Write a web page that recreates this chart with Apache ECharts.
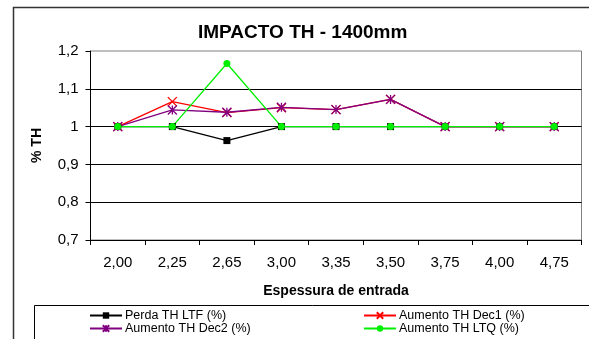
<!DOCTYPE html>
<html>
<head>
<meta charset="utf-8">
<script src="https://cdn.jsdelivr.net/npm/echarts@6/dist/echarts.min.js"></script>
<style>html,body{margin:0;padding:0;background:#fff;}#c{width:589px;height:339px;}</style>
</head>
<body>
<div id="c"></div>
<script>
var categories = ['2,00','2,25','2,65','3,00','3,35','3,50','3,75','4,00','4,75'];
var perdaLTF = [1, 1, 0.963, 1, 1, 1, 1, 1, 1];
var aumentoDec1 = [1, 1.066, 1.037, 1.05, 1.045, 1.072, 1, 1, 1];
var aumentoDec2 = [1, 1.044, 1.038, 1.051, 1.045, 1.072, 1, 1, 1];
var aumentoLTQ = [1, 1, 1.167, 1, 1, 1, 1, 1, 1];
var yTicks = {min: 0.7, max: 1.2, interval: 0.1};

var FONT = 'Liberation Sans, Arial, sans-serif';
var chart = echarts.init(document.getElementById('c'), null, {renderer: 'canvas'});

var xPath = 'path://M0,0L10,10M10,0L0,10';
var starPath = 'path://M0,0L10,10M10,0L0,10M5,0L5,10';

chart.setOption({
  animation: false,
  backgroundColor: '#fff',
  title: {
    text: 'IMPACTO TH - 1400mm',
    left: 198, top: 23, padding: 0,
    textStyle: {fontFamily: FONT, fontSize: 19, fontWeight: 'bold', color: '#000'}
  },
  graphic: [
    {type: 'rect', shape: {x: 13.5, y: 7.5, width: 650, height: 400}, style: {fill: 'none', stroke: '#333', lineWidth: 1.5}, silent: true, z: -1},
    {type: 'rect', shape: {x: 34.5, y: 305.5, width: 650, height: 100}, style: {fill: '#fff', stroke: '#000', lineWidth: 1}, silent: true, z: 0}
  ],
  grid: {left: 90.5, right: 7.5, top: 51, bottom: 99, show: true, borderColor: '#808080', borderWidth: 1, backgroundColor: 'transparent'},
  legend: [
    {
      data: ['Perda TH LTF (%)', 'Aumento TH Dec2 (%)'],
      orient: 'vertical', left: 89, top: 309, itemGap: 0, itemWidth: 32, itemHeight: 8,
      padding: 0, z: 5,
      textStyle: {fontFamily: FONT, fontSize: 12.5, color: '#000', lineHeight: 12, padding: [0, 0, 0, -2]}
    },
    {
      data: ['Aumento TH Dec1 (%)', 'Aumento TH LTQ (%)'],
      orient: 'vertical', left: 363, top: 309, itemGap: 0, itemWidth: 32, itemHeight: 8,
      padding: 0, z: 5,
      textStyle: {fontFamily: FONT, fontSize: 12.5, color: '#000', lineHeight: 12, padding: [0, 0, 0, -2]}
    }
  ],
  xAxis: {
    type: 'category',
    data: categories,
    boundaryGap: true,
    name: 'Espessura de entrada',
    nameLocation: 'middle',
    nameGap: 44,
    nameTextStyle: {fontFamily: FONT, fontSize: 14, fontWeight: 'bold', color: '#000'},
    axisLine: {lineStyle: {color: '#000', width: 1}},
    axisTick: {show: true, length: 5, interval: 0, alignWithLabel: false, lineStyle: {color: '#000'}},
    axisLabel: {fontFamily: FONT, fontSize: 15, color: '#000', margin: 15, interval: 0},
    splitLine: {show: false}
  },
  yAxis: {
    type: 'value',
    min: yTicks.min, max: yTicks.max, interval: yTicks.interval,
    name: '% TH',
    nameLocation: 'middle',
    nameRotate: 90,
    nameGap: 46,
    nameTextStyle: {fontFamily: FONT, fontSize: 14, fontWeight: 'bold', color: '#000'},
    axisLine: {show: true, lineStyle: {color: '#000', width: 1}},
    axisTick: {show: true, length: 5, lineStyle: {color: '#000'}},
    axisLabel: {
      fontFamily: FONT, fontSize: 15, color: '#000', margin: 12,
      formatter: function (v) { return String(Math.round(v * 10) / 10).replace('.', ','); }
    },
    splitLine: {show: true, showMaxLine: false, showMinLine: false, lineStyle: {color: '#000', width: 1}}
  },
  series: [
    {
      name: 'Perda TH LTF (%)', type: 'line', data: perdaLTF,
      symbol: 'rect', symbolSize: 7,
      lineStyle: {color: '#000', width: 1.3},
      itemStyle: {color: '#000'}
    },
    {
      name: 'Aumento TH Dec1 (%)', type: 'line', data: aumentoDec1,
      symbol: xPath, symbolSize: 9,
      lineStyle: {color: '#ff0000', width: 1.3},
      itemStyle: {color: '#ff0000', borderColor: '#ff0000', borderWidth: 1.3}
    },
    {
      name: 'Aumento TH Dec2 (%)', type: 'line', data: aumentoDec2,
      symbol: starPath, symbolSize: 9,
      lineStyle: {color: '#800080', width: 1.3},
      itemStyle: {color: '#800080', borderColor: '#800080', borderWidth: 1.3}
    },
    {
      name: 'Aumento TH LTQ (%)', type: 'line', data: aumentoLTQ,
      symbol: 'circle', symbolSize: 7,
      lineStyle: {color: '#00ee00', width: 1.3},
      itemStyle: {color: '#00ee00'}
    }
  ]
});
</script>
</body>
</html>
